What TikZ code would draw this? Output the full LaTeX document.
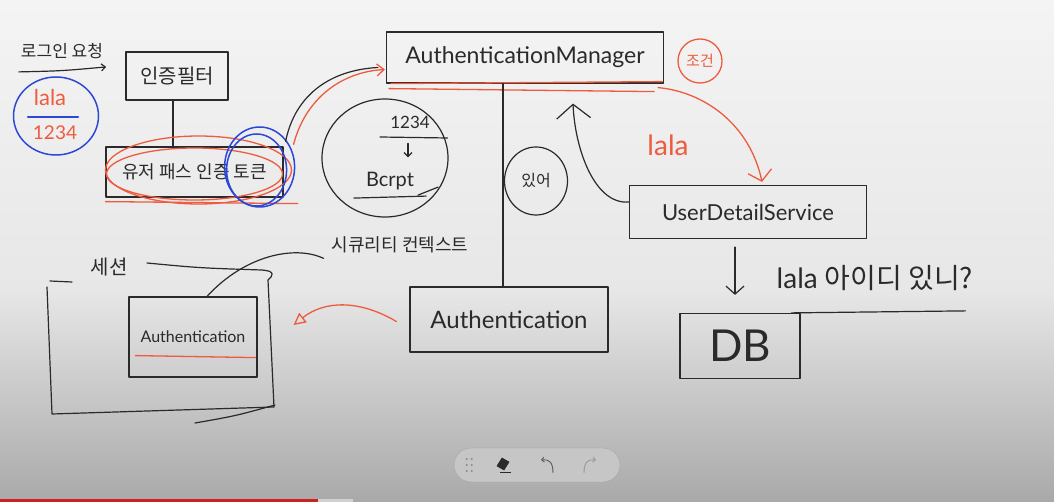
\documentclass[tikz,border=0pt]{standalone}
\usepackage{fontspec}
\setmainfont{Lato}
\newfontfamily\kr{Noto Sans CJK KR}
\usetikzlibrary{arrows.meta,calc,shapes.geometric}
\definecolor{ink}{HTML}{2A2A2A}
\definecolor{rd}{HTML}{EE5B3E}
\definecolor{bl}{HTML}{2C48D6}
\definecolor{bgA}{HTML}{F4F4F4}
\definecolor{bgB}{HTML}{E7E7E7}
\definecolor{bgC}{HTML}{A9A9A9}
\definecolor{barfill}{HTML}{C6C6C6}
\definecolor{barline}{HTML}{A6A6A6}
\definecolor{prog}{HTML}{CC2222}
\tikzset{
  pen/.style={draw=ink, line width=1.2pt, line cap=round, line join=round},
  rpen/.style={draw=rd, line width=1.3pt, line cap=round, line join=round},
  bpen/.style={draw=bl, line width=1.5pt, line cap=round, line join=round},
  box/.style={pen, rectangle, inner sep=0pt},
  txt/.style={inner sep=0pt, text=ink, font=\fontsize{#1}{#1}\selectfont},
  krt/.style={inner sep=0pt, text=ink, font=\kr\fontsize{#1}{#1}\selectfont},
}
\begin{document}
\begin{tikzpicture}[x=1pt,y=-1pt]
\path[use as bounding box] (0,0) rectangle (1054,502);
\shade[top color=bgA, bottom color=bgB] (0,0) rectangle (1054,290);
\shade[top color=bgB, bottom color=bgC] (0,290) rectangle (1054,502);
\fill[prog] (0,498.5) rectangle (318,502);
\fill[black!18] (318,498.5) rectangle (353,502);

% toolbar
\node[draw=barline, fill=barfill, rounded corners=17pt, minimum width=166, minimum height=34, inner sep=0pt] (bar) at (537,465) {};
\foreach \dx in {0,5} \foreach \dy in {-6,0,6} \fill[black!45] ($(bar.west)+(13+\dx,\dy)$) circle (1.1);
\filldraw[ink, line width=0.6pt] (497,466) -- (502,458) -- (509,462) -- (504,470) -- cycle;
\draw[ink, line width=0.8pt] (500,472) -- (511,472);
\draw[black!65, line width=0.9pt, -{Straight Barb[length=2.5pt,width=5pt]}] (553,473) .. controls (553,462) and (549,459) .. (541,460);
\draw[black!40, line width=0.9pt, -{Straight Barb[length=2.5pt,width=5pt]}] (584,473) .. controls (584,462) and (588,459) .. (596,460);

% login request
\node[krt=17] (req) at (62,51) {로그인 요청};
\draw[pen, -{Straight Barb[length=4pt,width=7pt]}] ($(req.south west)+(-2,13)$) .. controls ($(req.south)+(0,12)$) .. ($(req.south east)+(3,8)$);
\node[bpen, draw, ellipse, minimum width=85, minimum height=78, inner sep=0pt] (cred) at (56,116) {};
\node[txt=22, text=rd] (uname) at (50,97) {lala};
\node[txt=19, text=rd] (pw) at (55,133) {1234};
\draw[bpen] ($(cred.west)+(15,1)$) -- ($(cred.east)+(-21,1)$);

% filter & token
\node[box, minimum width=102, minimum height=48, krt=20] (filter) at (177,76) {인증필터};
\node[box, minimum width=177, minimum height=50, krt=18] (token) at (194.5,172) {유저 패스 인증 토큰};
\coordinate (fx) at (173,0);
\draw[pen] (fx |- filter.south) -- (fx |- token.north);
\draw[rpen] ($(token.center)+(4,-2)$) ellipse [x radius=93, y radius=34];
\draw[rpen] ($(token.center)+(0,2)$) ellipse [x radius=88, y radius=26];
\draw[rpen] ($(token.south west)+(0,4)$) -- ($(token.south east)+(14,6)$);
\draw[bpen] ($(token.east)+(-24,-5)$) ellipse [x radius=35, y radius=40];
\draw[bpen] ($(token.east)+(-27,-2)$) ellipse [x radius=30, y radius=36];

% manager
\node[box, minimum width=277, minimum height=51, txt=23] (mgr) at (525,57.5) {AuthenticationManager};
\draw[rpen] ($(mgr.south west)+(5,0)$) -- ($(mgr.south east)+(-2,-2)$);
\draw[rpen] ($(mgr.south west)+(3,5)$) -- ($(mgr.south east)+(-10,8)$);
\node[rpen, draw, circle, minimum size=44, inner sep=0pt, krt=15, text=rd] (cond) at (700,61) {조건};

\draw[pen] ($(token.north east)+(2,-5)$) .. controls (295,95) and (330,70) .. ($(mgr.west)+(-8,10)$);
\draw[rpen, -{Straight Barb[length=7pt,width=12pt]}] ($(token.north east)+(10,-2)$) .. controls (305,100) and (340,72) .. ($(mgr.west)+(-1,12)$);

% bcrypt circle
\node[pen, draw, ellipse, minimum width=126, minimum height=118, inner sep=0pt] (bc) at (385,158) {};
\node[txt=17] (bpw) at (410,122) {1234};
\draw[pen] ($(bc.center)+(-5,-21)$) -- ($(bc.east)+(-1,-20)$);
\draw[pen, -{Straight Barb[length=4pt,width=8pt]}] ($(bpw.south)+(-2,15)$) -- ($(bpw.south)+(-2,29)$);
\node[txt=20] (bname) at (390,181) {Bcrpt};
\draw[pen] ($(bname.south west)+(-12,8)$) -- ($(bname.south east)+(12,6)$);
\draw[pen] ($(bname.south east)+(4,5)$) -- ($(bname.south east)+(24,-3)$);

% exists circle
\node[pen, draw, ellipse, minimum width=63, minimum height=68, inner sep=0pt, krt=16] (ask) at (536,181) {있어};

% user detail service
\node[box, minimum width=237, minimum height=53, txt=22] (usd) at (748,212) {UserDetailService};
\node[txt=28, text=rd] (ulabel) at (668,145) {lala};
\draw[rpen, -{Straight Barb[length=10pt,width=24pt]}] ($(mgr.south east)+(-6,4)$) .. controls (705,92) and (750,125) .. ($(usd.north)+(14,-3)$);
\coordinate (uptip) at ($(mgr.south)+(48,20)$);
\draw[pen, -{Straight Barb[length=14pt,width=34pt]}] ($(usd.west)+(0,-10)$) .. controls (595,205) and (575,150) .. (uptip);

% authentication
\node[box, minimum width=198, minimum height=65, txt=24] (auth) at (509,319.5) {Authentication};
\coordinate (vx) at (503,0);
\draw[pen] (vx |- mgr.south) -- (vx |- auth.north);

% security context & session
\node[krt=18] (ctx) at (400,245) {시큐리티 컨텍스트};
\node[krt=20] (sess) at (109,267) {세션};
\draw[pen] (50,281) -- (72,282);
\draw[pen] (147,263) .. controls (200,268) .. (262,270) .. controls (276,271) and (273,276) .. (268,280) -- (274,407) -- (52,414) -- (47,287);
\draw[pen] (195,423) .. controls (235,416) .. (275,405);
\node[box, minimum width=128, minimum height=80, txt=16] (inner) at (193,337) {Authentication};
\draw[rpen] ($(inner.south west)+(7,-22)$) -- ($(inner.south east)+(-2,-20)$);
\draw[pen] ($(ctx.south west)+(-8,5)$) .. controls (295,245) and (245,255) .. ($(inner.north)+(14,0)$);
\draw[rpen, -{Triangle[open,length=12pt,width=12pt]}] ($(auth.west)+(-13,2)$) .. controls (360,300) and (325,300) .. ($(inner.east)+(36,-12)$);

% DB
\node[box, minimum width=120, minimum height=65, txt=44] (db) at (740,346) {DB};
\draw[pen, -{Straight Barb[length=8pt,width=18pt]}] ($(usd.south -| db.north)+(-5,8)$) -- ($(db.north)+(-5,-18)$);
\node[txt=28] (q) at (875,278) {lala {\kr 아이디 있니?}};
\draw[pen] ($(q.south west)+(15,22)$) -- ($(q.south east)+(-8,20)$);
\end{tikzpicture}
\end{document}
